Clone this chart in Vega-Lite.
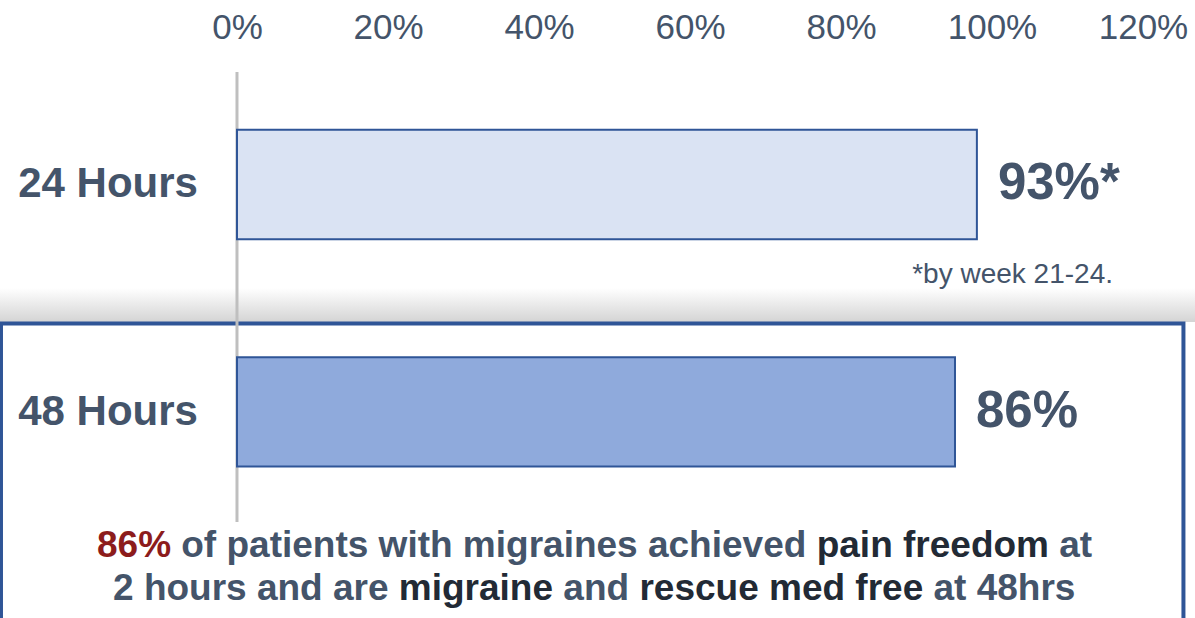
{
  "$schema": "https://vega.github.io/schema/vega-lite/v6.json",
  "width": 1195,
  "height": 450,
  "autosize": {"type": "none"},
  "padding": {"left": 0, "right": 0, "top": 72, "bottom": 96},
  "background": "#ffffff",
  "config": {"view": {"stroke": null}, "font": "Liberation Sans"},
  "data": {"values": [
    {"period": "24 Hours", "value": 98, "label": "93%*"},
    {"period": "48 Hours", "value": 95.1, "label": "86%"}
  ]},
  "resolve": {"scale": {"y": "independent"}},
  "layer": [
    {
      "data": {"values": [{"part": "shade"}]},
      "mark": {"type": "rect", "fill": {"gradient": "linear", "x1": 0, "y1": 0, "x2": 0, "y2": 1, "stops": [{"offset": 0, "color": "#ffffff"}, {"offset": 1, "color": "#d4d4d4"}]}},
      "encoding": {
        "x": {"datum": -31.39, "type": "quantitative"},
        "x2": {"datum": 126.89},
        "y": {"datum": 48.0, "type": "quantitative", "scale": {"domain": [0, 100], "reverse": true, "nice": false, "zero": false}, "axis": null},
        "y2": {"datum": 55.56}
      }
    },
    {
      "data": {"values": [{"part": "box"}]},
      "mark": {"type": "rect", "fill": "#ffffff", "stroke": "#2F5597", "strokeWidth": 4},
      "encoding": {
        "x": {"datum": -31.26, "type": "quantitative"},
        "x2": {"datum": 125.36},
        "y": {"datum": 55.89, "type": "quantitative", "scale": {"domain": [0, 100], "reverse": true, "nice": false, "zero": false}, "axis": null},
        "y2": {"datum": 126.2}
      }
    },
    {
      "data": {"values": [{"part": "zero"}]},
      "mark": {"type": "rule", "color": "#BFBFBF", "strokeWidth": 3},
      "encoding": {"x": {"datum": 0, "type": "quantitative"}}
    },
    {
      "encoding": {
        "y": {"field": "period", "type": "nominal", "scale": {"domain": ["24 Hours", "48 Hours"], "paddingInner": 0.5187, "paddingOuter": 0.2484, "align": 0.51}, "axis": null}
      },
      "layer": [
        {
          "mark": {"type": "bar", "stroke": "#2F5597", "strokeWidth": 2},
          "encoding": {
            "x": {"field": "value", "type": "quantitative", "scale": {"domain": [-31.39, 126.89], "nice": false, "zero": false},
              "axis": {"orient": "top", "values": [0, 20, 40, 60, 80, 100, 120], "labelExpr": "datum.value + '%'", "domain": false, "ticks": false, "tickSize": 0, "grid": false, "labelFontSize": 35, "labelColor": "#44546A", "labelFont": "Liberation Sans", "labelPadding": 34, "labelBaseline": "alphabetic", "labelOverlap": false, "labelFlush": false, "title": null}},
            "x2": {"datum": 0},
            "color": {"field": "period", "type": "nominal", "scale": {"range": ["#DAE3F3", "#8FAADC"]}, "legend": null}
          }
        },
        {
          "mark": {"type": "text", "align": "right", "baseline": "middle", "fontSize": 42, "fontWeight": "bold", "color": "#44546A"},
          "encoding": {
            "x": {"datum": -5.17, "type": "quantitative"},
            "text": {"field": "period"}
          }
        },
        {
          "mark": {"type": "text", "align": "left", "baseline": "middle", "dx": 21, "fontSize": 51, "fontWeight": "bold", "color": "#44546A"},
          "encoding": {
            "x": {"field": "value", "type": "quantitative"},
            "text": {"field": "label"}
          }
        },
        {
          "data": {"values": [{"period": "24 Hours", "t": "*by week 21-24."}]},
          "mark": {"type": "text", "align": "right", "baseline": "alphabetic", "dy": 98.6, "fontSize": 28, "color": "#44546A"},
          "encoding": {"x": {"datum": 116.03, "type": "quantitative"}, "text": {"field": "t"}}
        },
        {
          "data": {"values": [{"period": "48 Hours", "t": "86%"}]},
          "mark": {"type": "text", "align": "left", "baseline": "alphabetic", "dy": 145, "fontSize": 37, "fontWeight": "bold", "color": "#8C1C1C"},
          "encoding": {"x": {"datum": -18.54, "type": "quantitative"}, "text": {"field": "t"}}
        },
        {
          "data": {"values": [{"period": "48 Hours", "t": "of patients with migraines achieved"}]},
          "mark": {"type": "text", "align": "left", "baseline": "alphabetic", "dy": 145, "fontSize": 37, "fontWeight": "bold", "color": "#44546A"},
          "encoding": {"x": {"datum": -7.38, "type": "quantitative"}, "text": {"field": "t"}}
        },
        {
          "data": {"values": [{"period": "48 Hours", "t": "pain freedom"}]},
          "mark": {"type": "text", "align": "left", "baseline": "alphabetic", "dy": 145, "fontSize": 37, "fontWeight": "bold", "color": "#222A35"},
          "encoding": {"x": {"datum": 76.78, "type": "quantitative"}, "text": {"field": "t"}}
        },
        {
          "data": {"values": [{"period": "48 Hours", "t": "at"}]},
          "mark": {"type": "text", "align": "left", "baseline": "alphabetic", "dy": 145, "fontSize": 37, "fontWeight": "bold", "color": "#44546A"},
          "encoding": {"x": {"datum": 108.91, "type": "quantitative"}, "text": {"field": "t"}}
        },
        {
          "data": {"values": [{"period": "48 Hours", "t": "2 hours and are"}]},
          "mark": {"type": "text", "align": "left", "baseline": "alphabetic", "dy": 188, "fontSize": 37, "fontWeight": "bold", "color": "#44546A"},
          "encoding": {"x": {"datum": -16.42, "type": "quantitative"}, "text": {"field": "t"}}
        },
        {
          "data": {"values": [{"period": "48 Hours", "t": "migraine"}]},
          "mark": {"type": "text", "align": "left", "baseline": "alphabetic", "dy": 188, "fontSize": 37, "fontWeight": "bold", "color": "#222A35"},
          "encoding": {"x": {"datum": 21.43, "type": "quantitative"}, "text": {"field": "t"}}
        },
        {
          "data": {"values": [{"period": "48 Hours", "t": "and"}]},
          "mark": {"type": "text", "align": "left", "baseline": "alphabetic", "dy": 188, "fontSize": 37, "fontWeight": "bold", "color": "#44546A"},
          "encoding": {"x": {"datum": 43.22, "type": "quantitative"}, "text": {"field": "t"}}
        },
        {
          "data": {"values": [{"period": "48 Hours", "t": "rescue med free"}]},
          "mark": {"type": "text", "align": "left", "baseline": "alphabetic", "dy": 188, "fontSize": 37, "fontWeight": "bold", "color": "#222A35"},
          "encoding": {"x": {"datum": 53.30, "type": "quantitative"}, "text": {"field": "t"}}
        },
        {
          "data": {"values": [{"period": "48 Hours", "t": "at 48hrs"}]},
          "mark": {"type": "text", "align": "left", "baseline": "alphabetic", "dy": 188, "fontSize": 37, "fontWeight": "bold", "color": "#44546A"},
          "encoding": {"x": {"datum": 92.25, "type": "quantitative"}, "text": {"field": "t"}}
        }
      ]
    }
  ]
}
